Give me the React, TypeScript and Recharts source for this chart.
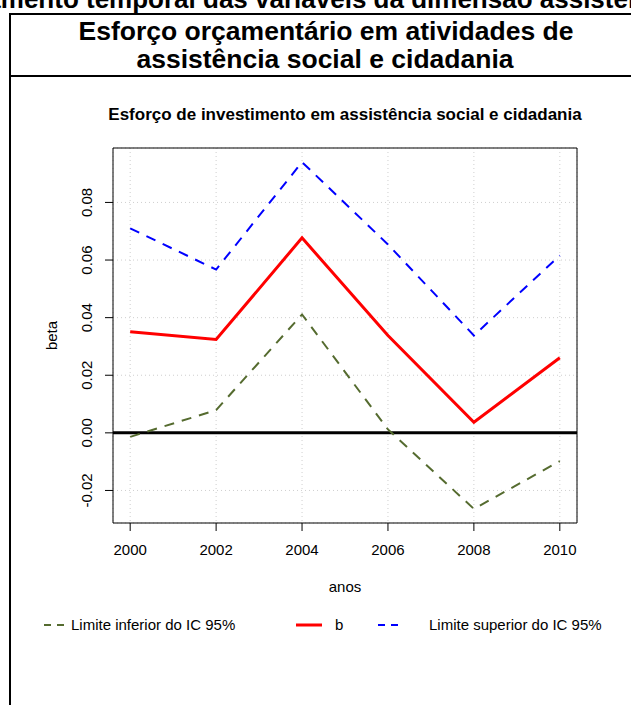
import {
  CartesianGrid,
  Line,
  LineChart,
  ReferenceArea,
  ReferenceLine,
  XAxis,
  YAxis,
} from "recharts";

const anos = [2000, 2002, 2004, 2006, 2008, 2010];
const limiteInferior = [-0.0014, 0.0079, 0.0411, 0.0012, -0.0264, -0.0098];
const b = [0.0351, 0.0324, 0.0677, 0.0338, 0.0037, 0.0261];
const limiteSuperior = [0.071, 0.0567, 0.094, 0.0654, 0.0338, 0.0616];
const yTicks = [-0.02, 0, 0.02, 0.04, 0.06, 0.08];

const data = anos.map((ano, i) => ({
  ano,
  inf: limiteInferior[i],
  b: b[i],
  sup: limiteSuperior[i],
}));

const FONT = '"Liberation Sans", Arial, Helvetica, sans-serif';
const X_DOMAIN: [number, number] = [1999.6, 2010.4];
const Y_DOMAIN: [number, number] = [-0.0313, 0.0989];
const OLIVE = "#556B2F";
const DASH = "10 8";
const FS = 15;

const YTick = ({ x, y, payload }: any) => (
  <text
    x={x}
    y={y}
    transform={`rotate(-90, ${x}, ${y})`}
    textAnchor="middle"
    fontSize={FS}
    fill="#000"
    fontFamily={FONT}
  >
    {payload.value.toFixed(2)}
  </text>
);

const App = () => {
  return (
    <div
      style={{
        position: "absolute",
        left: 0,
        top: 0,
        width: 631,
        height: 705,
        overflow: "hidden",
        background: "#fff",
        fontFamily: FONT,
      }}
    >
      <svg
        width={631}
        height={705}
        style={{ position: "absolute", left: 0, top: 0 }}
        fontFamily={FONT}
      >
        <text x={-122} y={8} fontSize={26} fontWeight="bold" fill="#000">
          Comportamento temporal das variáveis da dimensão assistência social e cidadania
        </text>
        <line x1={9} y1={14} x2={631} y2={14} stroke="#000" strokeWidth={2} />
        <line x1={9} y1={76} x2={631} y2={76} stroke="#000" strokeWidth={2} />
        <line x1={10} y1={13} x2={10} y2={705} stroke="#000" strokeWidth={2} />
        <text x={326} y={40} fontSize={26.5} fontWeight="bold" textAnchor="middle">
          Esforço orçamentário em atividades de
        </text>
        <text x={325} y={68} fontSize={26.5} fontWeight="bold" textAnchor="middle">
          assistência social e cidadania
        </text>
        <text x={345} y={120} fontSize={17} fontWeight="bold" textAnchor="middle">
          Esforço de investimento em assistência social e cidadania
        </text>

        {/* legenda */}
        <line x1={44} y1={625} x2={64} y2={625} stroke={OLIVE} strokeWidth={2} strokeDasharray="7 6" />
        <text x={71} y={630} fontSize={FS}>
          Limite inferior do IC 95%
        </text>
        <line x1={296} y1={625} x2={322} y2={625} stroke="#FF0000" strokeWidth={3} />
        <text x={335} y={630} fontSize={FS}>
          b
        </text>
        <line x1={378} y1={625} x2={400} y2={625} stroke="#0000FF" strokeWidth={2} strokeDasharray="7 6" />
        <text x={429} y={630} fontSize={FS}>
          Limite superior do IC 95%
        </text>
      </svg>

      <div style={{ position: "absolute", left: 0, top: 0 }}>
        <LineChart
          width={631}
          height={705}
          data={data}
          margin={{ top: 148, right: 54, bottom: 0, left: 0 }}
        >
          <CartesianGrid stroke="#cfcfcf" strokeDasharray="1 3" />
          <XAxis
            dataKey="ano"
            type="number"
            domain={X_DOMAIN}
            ticks={anos}
            allowDataOverflow
            height={182}
            axisLine={false}
            tickSize={8}
            tickMargin={13}
            tickLine={{ stroke: "#000" }}
            tick={{ fontSize: FS, fill: "#000", fontFamily: FONT }}
            label={{
              content: ({ viewBox }: any) => (
                <text
                  x={viewBox.x + viewBox.width / 2}
                  y={viewBox.y + 69}
                  textAnchor="middle"
                  fontSize={FS}
                  fill="#000"
                  fontFamily={FONT}
                >
                  anos
                </text>
              ),
            }}
          />
          <YAxis
            type="number"
            domain={Y_DOMAIN}
            ticks={yTicks}
            allowDataOverflow
            width={113}
            axisLine={false}
            tickSize={8}
            tickMargin={13}
            tickLine={{ stroke: "#000" }}
            tick={<YTick />}
            label={{
              content: ({ viewBox }: any) => (
                <text
                  x={57}
                  y={viewBox.y + viewBox.height / 2}
                  transform={`rotate(-90, 57, ${viewBox.y + viewBox.height / 2})`}
                  textAnchor="middle"
                  fontSize={FS}
                  fill="#000"
                  fontFamily={FONT}
                >
                  beta
                </text>
              ),
            }}
          />
          <ReferenceArea
            x1={X_DOMAIN[0]}
            x2={X_DOMAIN[1]}
            y1={Y_DOMAIN[0]}
            y2={Y_DOMAIN[1]}
            fill="none"
            fillOpacity={0}
            stroke="#000"
            strokeWidth={1}
          />
          <ReferenceLine y={0} stroke="#000" strokeWidth={3} />
          <Line
            dataKey="inf"
            stroke={OLIVE}
            strokeWidth={2}
            strokeDasharray={DASH}
            dot={false}
            isAnimationActive={false}
          />
          <Line
            dataKey="sup"
            stroke="#0000FF"
            strokeWidth={2}
            strokeDasharray={DASH}
            dot={false}
            isAnimationActive={false}
          />
          <Line
            dataKey="b"
            stroke="#FF0000"
            strokeWidth={3}
            dot={false}
            isAnimationActive={false}
          />
        </LineChart>
      </div>
    </div>
  );
};

export default App;
